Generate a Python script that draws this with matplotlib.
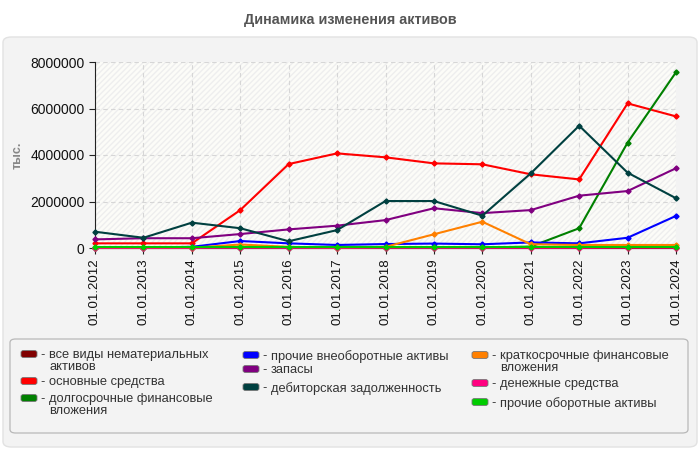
import matplotlib
matplotlib.use("Agg")
import matplotlib.pyplot as plt
from matplotlib.patches import FancyBboxPatch
from matplotlib.ticker import FuncFormatter

plt.rcParams['font.family'] = ['Liberation Sans', 'DejaVu Sans']

years = ["01.01.2012", "01.01.2013", "01.01.2014", "01.01.2015", "01.01.2016",
         "01.01.2017", "01.01.2018", "01.01.2019", "01.01.2020", "01.01.2021",
         "01.01.2022", "01.01.2023", "01.01.2024"]

intangible = [5000, 5000, 5000, 5000, 5000, 5000, 5000, 5000, 5000, 5000, 5000, 5000, 5000]
fixed_assets = [200000, 200000, 200000, 1630000, 3610000, 4070000, 3900000, 3640000, 3600000, 3170000, 2950000, 6220000, 5660000]
lt_investments = [10000, 10000, 10000, 10000, 10000, 10000, 10000, 10000, 20000, 60000, 850000, 4530000, 7560000]
other_noncurrent = [20000, 20000, 50000, 300000, 200000, 130000, 170000, 190000, 160000, 240000, 200000, 440000, 1380000]
inventories = [370000, 420000, 420000, 600000, 800000, 960000, 1200000, 1710000, 1500000, 1630000, 2250000, 2450000, 3430000]
receivables = [700000, 440000, 1090000, 850000, 290000, 770000, 2020000, 2020000, 1390000, 3210000, 5260000, 3240000, 2140000]
st_investments = [10000, 10000, 10000, 150000, 50000, 10000, 50000, 590000, 1130000, 160000, 130000, 130000, 130000]
cash = [10000, 10000, 10000, 10000, 10000, 10000, 10000, 10000, 10000, 10000, 10000, 20000, 15000]
other_current = [40000, 40000, 40000, 40000, 40000, 40000, 40000, 40000, 40000, 40000, 40000, 40000, 40000]

labels = ["все виды нематериальных\nактивов", "основные средства",
          "долгосрочные финансовые\nвложения", "прочие внеоборотные активы",
          "запасы", "дебиторская задолженность",
          "краткосрочные финансовые\nвложения", "денежные средства",
          "прочие оборотные активы"]
series = [intangible, fixed_assets, lt_investments, other_noncurrent, inventories,
          receivables, st_investments, cash, other_current]
colors = ["#800000", "#ff0000", "#008000", "#0000ff", "#800080",
          "#004040", "#ff8000", "#ff0080", "#00cc00"]

W, H = 700, 450
fig = plt.figure(figsize=(7, 4.5), dpi=100)
fig.patch.set_facecolor("white")

def fx(x):
    return x / W

def fy(y):
    return 1 - y / H

# outer panel
panel = FancyBboxPatch((fx(3), fy(447)), fx(694), (447 - 37) / H,
                       boxstyle="round,pad=0,rounding_size=0.012",
                       transform=fig.transFigure, facecolor="#f3f3f3",
                       edgecolor="#e2e2e2", lw=1, zorder=-10)
fig.patches.append(panel)

fig.text(0.5, fy(20), "Динамика изменения активов", ha="center", va="center",
         fontsize=10.4, fontweight="bold", color="#555555")

ax = fig.add_axes([fx(95), fy(248), fx(676 - 95), (248 - 62) / H])
ax.set_zorder(5)
ax.set_facecolor("#fcfcf8")
ax.patch.set_hatch("//////")
ax.patch.set_edgecolor("#eeeeee")
ax.patch.set_linewidth(0)

x = list(range(len(years)))
for s, c in zip(series, colors):
    ax.plot(x, s, color=c, lw=1.5, marker="D", markersize=2.6, zorder=3,
            clip_on=False)

ax.set_xlim(0, len(years) - 1)
ax.set_ylim(0, 8000000)
ax.set_yticks([0, 2000000, 4000000, 6000000, 8000000])
ax.yaxis.set_major_formatter(FuncFormatter(lambda v, p: f"{int(v)}"))
ax.set_xticks(x)
ax.set_xticklabels(years, rotation=90)
ax.tick_params(axis="both", labelsize=10, length=4, color="#222222", labelcolor="#111111")
ax.tick_params(axis="x", labelsize=9.5)
ax.grid(True, color="#d6d6d6", linestyle=(0, (4, 3)), lw=0.8, zorder=1)
ax.set_axisbelow(True)
for sp in ["top", "right"]:
    ax.spines[sp].set_visible(False)
ax.spines["left"].set_color("#222222")
ax.spines["bottom"].set_color("#222222")

fig.text(fx(18), fy(155), "тыс.", rotation=90, ha="center", va="center",
         fontsize=9, fontweight="bold", color="#888888")

# legend box
leg = FancyBboxPatch((fx(10), fy(433)), fx(678), (433 - 339) / H,
                     boxstyle="round,pad=0,rounding_size=0.008",
                     transform=fig.transFigure, facecolor="#f3f3f3",
                     edgecolor="#b8b8b8", lw=0.9, zorder=1)
fig.patches.append(leg)

positions = [(21, 354), (21, 381), (21, 398),
             (243, 355), (243, 369), (243, 387),
             (472, 355), (472, 383), (472, 402)]
for (px, py), lab, c in zip(positions, labels, colors):
    sw = FancyBboxPatch((fx(px), fy(py + 3.5)), fx(16), 7 / H,
                        boxstyle="round,pad=0,rounding_size=0.004",
                        transform=fig.transFigure, facecolor=c,
                        edgecolor="#777777", lw=0.6, zorder=2)
    fig.patches.append(sw)
    fig.text(fx(px + 19), fy(py + 1), "-", ha="left", va="center", fontsize=9.3,
             color="#333333")
    fig.text(fx(px + 28), fy(py - 5), lab, ha="left", va="top", fontsize=9.3,
             color="#333333", linespacing=1.05)

fig.savefig("out.png", dpi=100)
